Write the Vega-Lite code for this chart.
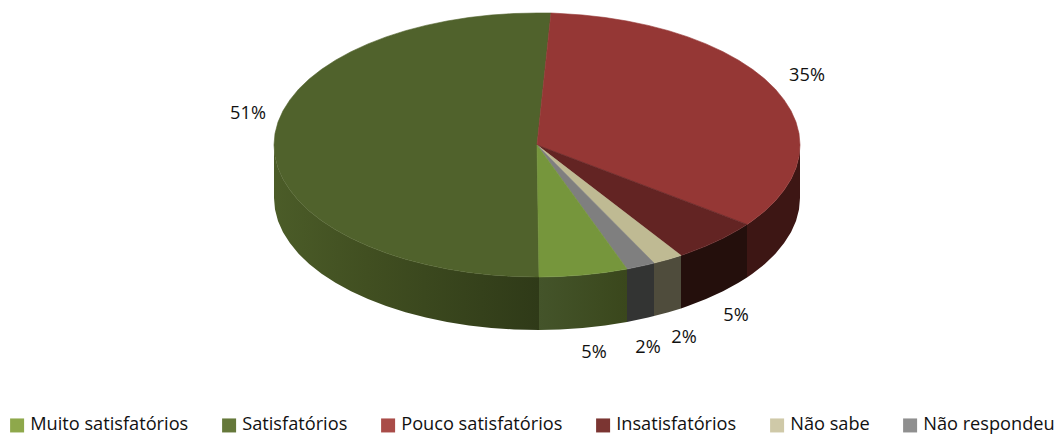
{
"$schema":"https://vega.github.io/schema/vega-lite/v6.json",
"width":1062,"height":434,"padding":0,"autosize":{"type":"none"},"background":"white",
"config":{"view":{"stroke":null}},
"datasets":{
"top":[
{"slice":"Pouco satisfatórios","i":0,"x":537,"y":145},{"slice":"Pouco satisfatórios","i":1,"x":551,"y":13},{"slice":"Pouco satisfatórios","i":2,"x":560,"y":13.5},{"slice":"Pouco satisfatórios","i":3,"x":582.7,"y":15},{"slice":"Pouco satisfatórios","i":4,"x":605.1,"y":17.5},{"slice":"Pouco satisfatórios","i":5,"x":626.9,"y":21},{"slice":"Pouco satisfatórios","i":6,"x":648.1,"y":25.4},{"slice":"Pouco satisfatórios","i":7,"x":668.5,"y":30.7},{"slice":"Pouco satisfatórios","i":8,"x":687.9,"y":36.9},{"slice":"Pouco satisfatórios","i":9,"x":706,"y":43.9},{"slice":"Pouco satisfatórios","i":10,"x":723,"y":51.7},{"slice":"Pouco satisfatórios","i":11,"x":738.5,"y":60.2},{"slice":"Pouco satisfatórios","i":12,"x":752.4,"y":69.3},{"slice":"Pouco satisfatórios","i":13,"x":764.8,"y":79},{"slice":"Pouco satisfatórios","i":14,"x":775.4,"y":89.2},{"slice":"Pouco satisfatórios","i":15,"x":784.1,"y":99.9},{"slice":"Pouco satisfatórios","i":16,"x":791,"y":110.8},{"slice":"Pouco satisfatórios","i":17,"x":796,"y":122.1},{"slice":"Pouco satisfatórios","i":18,"x":799,"y":133.5},{"slice":"Pouco satisfatórios","i":19,"x":800,"y":145},{"slice":"Pouco satisfatórios","i":20,"x":799,"y":156.5},{"slice":"Pouco satisfatórios","i":21,"x":796,"y":167.9},{"slice":"Pouco satisfatórios","i":22,"x":791,"y":179.2},{"slice":"Pouco satisfatórios","i":23,"x":784.1,"y":190.1},{"slice":"Pouco satisfatórios","i":24,"x":775.4,"y":200.8},{"slice":"Pouco satisfatórios","i":25,"x":764.8,"y":211},{"slice":"Pouco satisfatórios","i":26,"x":752.4,"y":220.7},{"slice":"Pouco satisfatórios","i":27,"x":747,"y":224.4},{"slice":"Pouco satisfatórios","i":28,"x":537,"y":145},
{"slice":"Insatisfatórios","i":0,"x":537,"y":145},{"slice":"Insatisfatórios","i":1,"x":747,"y":224.4},{"slice":"Insatisfatórios","i":2,"x":738.5,"y":229.8},{"slice":"Insatisfatórios","i":3,"x":723,"y":238.3},{"slice":"Insatisfatórios","i":4,"x":706,"y":246.1},{"slice":"Insatisfatórios","i":5,"x":687.9,"y":253.1},{"slice":"Insatisfatórios","i":6,"x":681,"y":255.4},{"slice":"Insatisfatórios","i":7,"x":537,"y":145},
{"slice":"Não sabe","i":0,"x":537,"y":145},{"slice":"Não sabe","i":1,"x":681,"y":255.4},{"slice":"Não sabe","i":2,"x":668.5,"y":259.3},{"slice":"Não sabe","i":3,"x":654,"y":263},{"slice":"Não sabe","i":4,"x":537,"y":145},
{"slice":"Não respondeu","i":0,"x":537,"y":145},{"slice":"Não respondeu","i":1,"x":654,"y":263},{"slice":"Não respondeu","i":2,"x":648.1,"y":264.6},{"slice":"Não respondeu","i":3,"x":627,"y":269},{"slice":"Não respondeu","i":4,"x":537,"y":145},
{"slice":"Muito satisfatórios","i":0,"x":537,"y":145},{"slice":"Muito satisfatórios","i":1,"x":627,"y":269},{"slice":"Muito satisfatórios","i":2,"x":605.1,"y":272.5},{"slice":"Muito satisfatórios","i":3,"x":582.7,"y":275},{"slice":"Muito satisfatórios","i":4,"x":559.9,"y":276.5},{"slice":"Muito satisfatórios","i":5,"x":539,"y":277},{"slice":"Muito satisfatórios","i":6,"x":537,"y":145},
{"slice":"Satisfatórios","i":0,"x":537,"y":145},{"slice":"Satisfatórios","i":1,"x":539,"y":277},{"slice":"Satisfatórios","i":2,"x":537,"y":277},{"slice":"Satisfatórios","i":3,"x":514.1,"y":276.5},{"slice":"Satisfatórios","i":4,"x":491.3,"y":275},{"slice":"Satisfatórios","i":5,"x":468.9,"y":272.5},{"slice":"Satisfatórios","i":6,"x":447.1,"y":269},{"slice":"Satisfatórios","i":7,"x":425.9,"y":264.6},{"slice":"Satisfatórios","i":8,"x":405.5,"y":259.3},{"slice":"Satisfatórios","i":9,"x":386.1,"y":253.1},{"slice":"Satisfatórios","i":10,"x":368,"y":246.1},{"slice":"Satisfatórios","i":11,"x":351,"y":238.3},{"slice":"Satisfatórios","i":12,"x":335.5,"y":229.8},{"slice":"Satisfatórios","i":13,"x":321.6,"y":220.7},{"slice":"Satisfatórios","i":14,"x":309.2,"y":211},{"slice":"Satisfatórios","i":15,"x":298.6,"y":200.8},{"slice":"Satisfatórios","i":16,"x":289.9,"y":190.1},{"slice":"Satisfatórios","i":17,"x":283,"y":179.2},{"slice":"Satisfatórios","i":18,"x":278,"y":167.9},{"slice":"Satisfatórios","i":19,"x":275,"y":156.5},{"slice":"Satisfatórios","i":20,"x":274,"y":145},{"slice":"Satisfatórios","i":21,"x":275,"y":133.5},{"slice":"Satisfatórios","i":22,"x":278,"y":122.1},{"slice":"Satisfatórios","i":23,"x":283,"y":110.8},{"slice":"Satisfatórios","i":24,"x":289.9,"y":99.9},{"slice":"Satisfatórios","i":25,"x":298.6,"y":89.2},{"slice":"Satisfatórios","i":26,"x":309.2,"y":79},{"slice":"Satisfatórios","i":27,"x":321.6,"y":69.3},{"slice":"Satisfatórios","i":28,"x":335.5,"y":60.2},{"slice":"Satisfatórios","i":29,"x":351,"y":51.7},{"slice":"Satisfatórios","i":30,"x":368,"y":43.9},{"slice":"Satisfatórios","i":31,"x":386.1,"y":36.9},{"slice":"Satisfatórios","i":32,"x":405.5,"y":30.7},{"slice":"Satisfatórios","i":33,"x":425.9,"y":25.4},{"slice":"Satisfatórios","i":34,"x":447.1,"y":21},{"slice":"Satisfatórios","i":35,"x":468.9,"y":17.5},{"slice":"Satisfatórios","i":36,"x":491.3,"y":15},{"slice":"Satisfatórios","i":37,"x":514.1,"y":13.5},{"slice":"Satisfatórios","i":38,"x":537,"y":13},{"slice":"Satisfatórios","i":39,"x":551,"y":13},{"slice":"Satisfatórios","i":40,"x":537,"y":145}
],
"side":[
{"slice":"Satisfatórios","x":274,"y":145,"y2":198},{"slice":"Satisfatórios","x":275,"y":156.5,"y2":209.5},{"slice":"Satisfatórios","x":278,"y":167.9,"y2":220.9},{"slice":"Satisfatórios","x":283,"y":179.2,"y2":232.2},{"slice":"Satisfatórios","x":289.9,"y":190.1,"y2":243.1},{"slice":"Satisfatórios","x":298.6,"y":200.8,"y2":253.8},{"slice":"Satisfatórios","x":309.2,"y":211,"y2":264},{"slice":"Satisfatórios","x":321.6,"y":220.7,"y2":273.7},{"slice":"Satisfatórios","x":335.5,"y":229.8,"y2":282.8},{"slice":"Satisfatórios","x":351,"y":238.3,"y2":291.3},{"slice":"Satisfatórios","x":368,"y":246.1,"y2":299.1},{"slice":"Satisfatórios","x":386.1,"y":253.1,"y2":306.1},{"slice":"Satisfatórios","x":405.5,"y":259.3,"y2":312.3},{"slice":"Satisfatórios","x":425.9,"y":264.6,"y2":317.6},{"slice":"Satisfatórios","x":447.1,"y":269,"y2":322},{"slice":"Satisfatórios","x":468.9,"y":272.5,"y2":325.5},{"slice":"Satisfatórios","x":491.3,"y":275,"y2":328},{"slice":"Satisfatórios","x":514.1,"y":276.5,"y2":329.5},{"slice":"Satisfatórios","x":539,"y":277,"y2":330},
{"slice":"Muito satisfatórios","x":539,"y":277,"y2":330},{"slice":"Muito satisfatórios","x":559.9,"y":276.5,"y2":329.5},{"slice":"Muito satisfatórios","x":582.7,"y":275,"y2":328},{"slice":"Muito satisfatórios","x":605.1,"y":272.5,"y2":325.5},{"slice":"Muito satisfatórios","x":627,"y":269,"y2":322},
{"slice":"Não respondeu","x":627,"y":269,"y2":322},{"slice":"Não respondeu","x":648.1,"y":264.6,"y2":317.6},{"slice":"Não respondeu","x":654,"y":263,"y2":316},
{"slice":"Não sabe","x":654,"y":263,"y2":316},{"slice":"Não sabe","x":668.5,"y":259.3,"y2":312.3},{"slice":"Não sabe","x":681,"y":255.4,"y2":308.4},
{"slice":"Insatisfatórios","x":681,"y":255.4,"y2":308.4},{"slice":"Insatisfatórios","x":687.9,"y":253.1,"y2":306.1},{"slice":"Insatisfatórios","x":706,"y":246.1,"y2":299.1},{"slice":"Insatisfatórios","x":723,"y":238.3,"y2":291.3},{"slice":"Insatisfatórios","x":738.5,"y":229.8,"y2":282.8},{"slice":"Insatisfatórios","x":747,"y":224.4,"y2":277.4},
{"slice":"Pouco satisfatórios","x":747,"y":224.4,"y2":277.4},{"slice":"Pouco satisfatórios","x":752.4,"y":220.7,"y2":273.7},{"slice":"Pouco satisfatórios","x":764.8,"y":211,"y2":264},{"slice":"Pouco satisfatórios","x":775.4,"y":200.8,"y2":253.8},{"slice":"Pouco satisfatórios","x":784.1,"y":190.1,"y2":243.1},{"slice":"Pouco satisfatórios","x":791,"y":179.2,"y2":232.2},{"slice":"Pouco satisfatórios","x":796,"y":167.9,"y2":220.9},{"slice":"Pouco satisfatórios","x":799,"y":156.5,"y2":209.5},{"slice":"Pouco satisfatórios","x":800,"y":145,"y2":198}
],
"labels":[
{"slice":"Muito satisfatórios","pct":"5%","x":594,"y":353},
{"slice":"Satisfatórios","pct":"51%","x":248,"y":114},
{"slice":"Pouco satisfatórios","pct":"35%","x":807,"y":76},
{"slice":"Insatisfatórios","pct":"5%","x":736,"y":316},
{"slice":"Não sabe","pct":"2%","x":684,"y":338},
{"slice":"Não respondeu","pct":"2%","x":648,"y":348}
]},
"encoding":{
"x":{"field":"x","type":"quantitative","scale":{"domain":[0,1062],"nice":false,"zero":false},"axis":null},
"y":{"field":"y","type":"quantitative","scale":{"domain":[434,0],"nice":false,"zero":false},"axis":null}
},
"layer":[
{"data":{"name":"side"},"transform":[{"filter":"datum.slice==='Satisfatórios'"}],"mark":{"type":"area","fill":{"gradient":"linear","x1":0,"x2":1,"y1":0,"y2":0,"stops":[{"offset":0,"color":"#4b5c28"},{"offset":0.35,"color":"#414f21"},{"offset":1,"color":"#2f3a18"}]}},"encoding":{"y2":{"field":"y2"}}},
{"data":{"name":"side"},"transform":[{"filter":"datum.slice==='Muito satisfatórios'"}],"mark":{"type":"area","fill":{"gradient":"linear","x1":0,"x2":1,"y1":0,"y2":0,"stops":[{"offset":0,"color":"#44542a"},{"offset":1,"color":"#3a471c"}]}},"encoding":{"y2":{"field":"y2"}}},
{"data":{"name":"side"},"transform":[{"filter":"datum.slice==='Não respondeu'"}],"mark":{"type":"area","fill":"#333433"},"encoding":{"y2":{"field":"y2"}}},
{"data":{"name":"side"},"transform":[{"filter":"datum.slice==='Não sabe'"}],"mark":{"type":"area","fill":"#4f4c3c"},"encoding":{"y2":{"field":"y2"}}},
{"data":{"name":"side"},"transform":[{"filter":"datum.slice==='Insatisfatórios'"}],"mark":{"type":"area","fill":"#240f0c"},"encoding":{"y2":{"field":"y2"}}},
{"data":{"name":"side"},"transform":[{"filter":"datum.slice==='Pouco satisfatórios'"}],"mark":{"type":"area","fill":"#3d1614"},"encoding":{"y2":{"field":"y2"}}},
{"data":{"name":"top"},"transform":[{"filter":"datum.slice==='Satisfatórios'"}],"mark":{"type":"line","fill":"#50622c","stroke":"#50622c","strokeWidth":0.6},"encoding":{"order":{"field":"i","type":"quantitative"}}},
{"data":{"name":"top"},"transform":[{"filter":"datum.slice==='Pouco satisfatórios'"}],"mark":{"type":"line","fill":"#953735","stroke":"#953735","strokeWidth":0.6},"encoding":{"order":{"field":"i","type":"quantitative"}}},
{"data":{"name":"top"},"transform":[{"filter":"datum.slice==='Insatisfatórios'"}],"mark":{"type":"line","fill":"#632423","stroke":"#632423","strokeWidth":0.6},"encoding":{"order":{"field":"i","type":"quantitative"}}},
{"data":{"name":"top"},"transform":[{"filter":"datum.slice==='Não sabe'"}],"mark":{"type":"line","fill":"#bfba93","stroke":"#bfba93","strokeWidth":0.6},"encoding":{"order":{"field":"i","type":"quantitative"}}},
{"data":{"name":"top"},"transform":[{"filter":"datum.slice==='Não respondeu'"}],"mark":{"type":"line","fill":"#7f7f7f","stroke":"#7f7f7f","strokeWidth":0.6},"encoding":{"order":{"field":"i","type":"quantitative"}}},
{"data":{"name":"top"},"transform":[{"filter":"datum.slice==='Muito satisfatórios'"}],"mark":{"type":"line","fill":"#76963c","stroke":"#76963c","strokeWidth":0.6},"encoding":{"order":{"field":"i","type":"quantitative"}}},
{"data":{"name":"labels"},"mark":{"type":"point","filled":true,"size":4,"opacity":0},
 "encoding":{"color":{"field":"slice","type":"nominal",
  "scale":{"domain":["Muito satisfatórios","Satisfatórios","Pouco satisfatórios","Insatisfatórios","Não sabe","Não respondeu"],"range":["#8ea84b","#65783a","#a94c48","#7b3532","#cfc9a8","#8f8f8f"]},
  "legend":{"title":null,"orient":"none","legendX":8,"legendY":416,"direction":"horizontal","symbolType":"square","symbolSize":196,"symbolStrokeWidth":0,"symbolOpacity":1,"labelFont":"Open Sans","labelFontSize":18.2,"labelColor":"#111","labelOffset":4,"labelLimit":300,"columnPadding":31}}}},
{"data":{"name":"labels"},"mark":{"type":"text","font":"Open Sans","fontSize":18.2,"color":"#111","align":"center","baseline":"middle"},
 "encoding":{"text":{"field":"pct","type":"nominal"}}}
]
}
